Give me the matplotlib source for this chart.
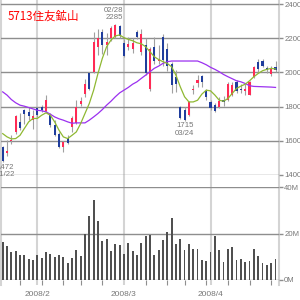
import numpy as np
import pandas as pd
import matplotlib
matplotlib.use('Agg')
import matplotlib.pyplot as plt

plt.rcParams['font.family'] = ['Liberation Sans', 'DejaVu Sans']

title = '5713住友鉱山'
holidays = ['2008-02-11', '2008-03-20']
dates = pd.bdate_range('2008-01-22', '2008-04-22')
dates = dates[~dates.isin(pd.to_datetime(holidays))]

opens = [1565, 1530, 1595, 1650, 1710, 1778, 1765, 1720, 1790, 1800,
         1775, 1750, 1690, 1640, 1560, 1615, 1680, 1705, 1815, 1875,
         1995, 2005, 2150, 2240, 2160, 2200, 2210, 2275, 2170, 2150,
         2135, 2240, 2120, 2160, 1900, 2150, 2065, 2210, 2140, 2050,
         1975, 1795, 1780, 1750, 1895, 1940, 1978, 1890, 1825, 1810,
         1800, 1840, 1840, 1870, 1945, 1905, 1890, 1870, 1975, 2060,
         2070, 2025, 1990, 2030]
highs = [1570, 1605, 1635, 1750, 1762, 1785, 1795, 1780, 1800, 1810,
         1867, 1760, 1720, 1650, 1600, 1632, 1745, 1840, 1857, 1960,
         2005, 2240, 2253, 2253, 2230, 2270, 2285, 2280, 2195, 2205,
         2200, 2250, 2255, 2200, 2150, 2210, 2160, 2225, 2170, 2060,
         2015, 1805, 1800, 1835, 1925, 1985, 1985, 1905, 1840, 1820,
         1855, 1860, 1945, 1945, 1955, 1930, 1935, 1950, 2040, 2080,
         2080, 2040, 2035, 2070]
lows = [1472, 1512, 1580, 1640, 1660, 1700, 1720, 1670, 1740, 1770,
        1770, 1680, 1625, 1555, 1532, 1583, 1650, 1695, 1805, 1857,
        1895, 1995, 2100, 2110, 2105, 2185, 2200, 2200, 2090, 2130,
        2115, 2195, 2105, 1985, 1890, 2050, 2050, 2040, 2010, 1880,
        1885, 1725, 1715, 1745, 1875, 1915, 1915, 1840, 1780, 1770,
        1790, 1805, 1830, 1860, 1880, 1880, 1870, 1865, 1965, 2000,
        2030, 1995, 1980, 2005]
closes = [1480, 1540, 1605, 1745, 1672, 1755, 1745, 1745, 1750, 1778,
          1838, 1690, 1635, 1565, 1590, 1588, 1735, 1800, 1830, 1935,
          1900, 2180, 2200, 2160, 2180, 2258, 2278, 2215, 2095, 2165,
          2175, 2210, 2228, 1995, 2140, 2065, 2080, 2075, 2035, 1925,
          1930, 1735, 1720, 1827, 1905, 1955, 1945, 1855, 1790, 1775,
          1835, 1825, 1935, 1925, 1890, 1895, 1905, 1945, 2033, 2020,
          2040, 2015, 2025, 2015]
volume_m = [16.3, 14.6, 12.1, 12.4, 10.7, 10.7, 9.0, 8.6, 10.7, 9.4,
            12.1, 11.1, 10.0, 10.7, 10.0, 7.4, 9.4, 12.9, 10.3, 20.0,
            27.6, 34.3, 25.3, 16.7, 17.6, 12.6, 15.4, 15.0, 11.1, 16.0,
            12.6, 10.7, 16.0, 18.9, 19.3, 10.7, 12.9, 17.1, 20.6, 26.6,
            15.4, 17.6, 12.9, 15.4, 13.3, 13.3, 8.6, 8.1, 12.0, 18.9,
            12.9, 7.7, 13.3, 14.1, 8.6, 9.0, 7.7, 8.1, 13.3, 10.3,
            7.3, 6.4, 7.3, 9.0]
# moving averages as drawn (short / long)
ma_short = [1641, 1622, 1610, 1612, 1631, 1671, 1710, 1730, 1730, 1749,
            1763, 1749, 1710, 1661, 1622, 1612, 1631, 1651, 1700, 1759,
            1818, 1896, 1994, 2082, 2151, 2190, 2214, 2220, 2204, 2194,
            2186, 2174, 2168, 2151, 2122, 2092, 2076, 2063, 2053, 2033,
            1984, 1916, 1857, 1827, 1827, 1837, 1873, 1896, 1892, 1867,
            1837, 1831, 1847, 1877, 1906, 1920, 1931, 1951, 1975, 1994,
            2010, 2018, 2024, 2020]
ma_long = [1886, 1867, 1841, 1822, 1808, 1802, 1794, 1786, 1778, 1775,
           1769, 1755, 1739, 1728, 1720, 1710, 1702, 1704, 1704, 1704,
           1720, 1739, 1759, 1782, 1808, 1831, 1857, 1880, 1896, 1912,
           1931, 1945, 1965, 1984, 2004, 2024, 2037, 2053, 2063, 2067,
           2067, 2067, 2067, 2067, 2067, 2067, 2057, 2045, 2030, 2018,
           2004, 1988, 1975, 1963, 1951, 1945, 1935, 1922, 1918, 1917,
           1916, 1915, 1914, 1912]

price_ticks = [1400, 1600, 1800, 2000, 2200, 2400]
vol_ticks = [0, 20, 40]
vol_labels = ['0M', '20M', '40M']

o = np.array(opens); h = np.array(highs); l = np.array(lows); c = np.array(closes)
x = np.arange(len(dates))
up = c >= o

month_idx = [i for i in range(1, len(dates)) if dates[i].month != dates[i - 1].month]
week_idx = [i for i in range(1, len(dates)) if dates[i].weekday() < dates[i - 1].weekday()]

RED = '#ff2a55'
BLUE = '#1f3d9c'
GRID = '#8e8e8e'
VGRID = '#d4d4d4'
TXT = '#777777'
FS = 5.6
xlim = (-0.39, 63.8)

fig = plt.figure(figsize=(3, 3), dpi=100)
left, width = 1 / 300, 278 / 300

# background axes: vertical month lines and side borders
bg = fig.add_axes([left, 15 / 300, width, 285 / 300])
bg.set_xlim(*xlim)
for i in month_idx:
    bg.axvline(i, color=VGRID, lw=1.5)
bg.set_xticks([]); bg.set_yticks([])
for s in ['top', 'bottom']:
    bg.spines[s].set_visible(False)
for s in ['left', 'right']:
    bg.spines[s].set_color(VGRID)
    bg.spines[s].set_linewidth(1.5)

# price panel
ax = fig.add_axes([left, 1 - 174.7 / 300, width, 174.7 / 300])
ax.patch.set_alpha(0)
ax.set_xlim(*xlim)
ax.set_ylim(1400, 2425)
for s in ax.spines.values():
    s.set_visible(False)
ax.set_yticks(price_ticks)
ax.yaxis.tick_right()
ax.tick_params(axis='y', length=3.2, width=1, color=GRID, labelsize=FS,
               labelcolor=TXT, pad=0.5)
ax.set_xticks([])
ax.grid(axis='y', color=GRID, lw=1)
ax.set_axisbelow(True)

ax.vlines(x, l, h, color='#a0a0a0', lw=0.8, zorder=2)
body_h = np.maximum(np.abs(c - o), 4)
ax.bar(x, body_h, bottom=np.minimum(o, c), width=0.5,
       color=np.where(up, RED, BLUE), zorder=3)
ax.plot(x, ma_long, color='#9b30f0', lw=0.9, zorder=4)
ax.plot(x, ma_short, color='#8fb832', lw=0.9, zorder=4)

i_hi = int(np.argmax(h))
ax.annotate(f'{dates[i_hi]:%m/%d}\n{h[i_hi]}', xy=(i_hi, h[i_hi]), xytext=(-1, 2),
            textcoords='offset points', ha='center', va='bottom',
            fontsize=FS, color=TXT, linespacing=1.05, annotation_clip=False)
for i_lo in [int(np.argmin(l)), int(np.argmin(l[30:])) + 30]:
    dx = 2 if i_lo == 0 else 0
    ax.annotate(f'{l[i_lo]}\n{dates[i_lo]:%m/%d}', xy=(i_lo, l[i_lo]), xytext=(dx, -1),
                textcoords='offset points', ha='center', va='top',
                fontsize=FS, color=TXT, linespacing=1.05, annotation_clip=False)

fig.text(8 / 300, 1 - 16.5 / 300, title, color='#ff0000', fontsize=8.3,
         va='center', ha='left', family=['Noto Sans CJK JP', 'DejaVu Sans'])

# volume panel
axv = fig.add_axes([left, 20 / 300, width, 93 / 300])
axv.patch.set_alpha(0)
axv.set_xlim(*xlim)
axv.set_ylim(0, 40)
for s in axv.spines.values():
    s.set_visible(False)
axv.set_yticks(vol_ticks)
axv.set_yticklabels(vol_labels)
axv.yaxis.tick_right()
axv.tick_params(axis='y', length=3.2, width=1, color=GRID, labelsize=FS,
                labelcolor=TXT, pad=0.5)
axv.grid(axis='y', color=GRID, lw=1)
axv.set_axisbelow(True)
axv.bar(x, volume_m, width=0.42, color='#505050', zorder=3)

axv.set_xticks(month_idx)
axv.set_xticklabels([f'{dates[i].year}/{dates[i].month}' for i in month_idx])
axv.set_xticks(week_idx, minor=True)
axv.tick_params(axis='x', which='major', length=0, pad=8, labelsize=FS + 0.4, labelcolor=TXT)
axv.tick_params(axis='x', which='minor', length=3.5, width=0.8, color=GRID)

fig.savefig('out.png', dpi=100)
